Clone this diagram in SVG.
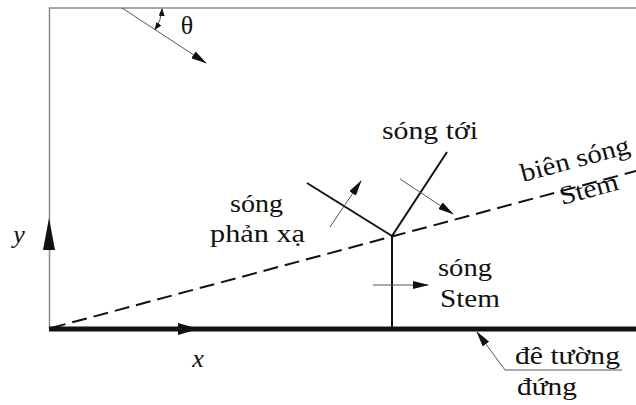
<svg xmlns="http://www.w3.org/2000/svg" width="636" height="405" viewBox="0 0 636 405" font-family="Liberation Serif, DejaVu Serif, serif">
<style>
.t{font-size:26px;fill:#111}
.i{font-style:italic}
.frame{stroke:#8a8a8a;stroke-width:1.5;fill:none}
.thin{stroke:#555;stroke-width:1;fill:none}
.wave{stroke:#111;stroke-width:2;fill:none}
</style>
<defs>
<marker id="ah" markerUnits="userSpaceOnUse" markerWidth="16" markerHeight="8" refX="15" refY="4" orient="auto-start-reverse">
<path d="M0,0 L16,4 L0,8 z" fill="#111"/>
</marker>
<marker id="sm" markerUnits="userSpaceOnUse" markerWidth="8" markerHeight="6" refX="7" refY="3" orient="auto-start-reverse">
<path d="M0,0 L8,3 L0,6 z" fill="#111"/>
</marker>
</defs>
<g id="frame">
<path class="frame" d="M636,8 H49.5 V329"/>
</g>
<g id="connectors">
<line x1="49" y1="329" x2="636" y2="329" stroke="#111" stroke-width="5"/>
<polygon points="199,329 178,323 178,335" fill="#111"/>
<polygon points="49,218 43,250 55,250" fill="#111"/>
<line x1="51" y1="328" x2="636" y2="171" stroke="#111" stroke-width="2" stroke-dasharray="15,7"/>
<line class="wave" x1="392" y1="236" x2="392" y2="329" stroke-width="2.5"/>
<line class="wave" x1="392" y1="236" x2="447" y2="152"/>
<line class="wave" x1="392" y1="236" x2="307" y2="183"/>
<line class="thin" x1="330" y1="227" x2="361" y2="181" marker-end="url(#ah)"/>
<line class="thin" x1="400" y1="179" x2="453" y2="214" marker-end="url(#ah)"/>
<line class="thin" x1="373" y1="285" x2="428" y2="285" marker-end="url(#ah)"/>
<line class="thin" x1="122" y1="8" x2="206" y2="63" marker-end="url(#ah)"/>
<path class="thin" d="M162,9 A40,40 0 0 1 155,29.5" stroke="#111" marker-start="url(#sm)" marker-end="url(#sm)"/>
<polyline class="thin" points="477,332 505,370 622,370" marker-start="url(#ah)"/>
</g>
<g id="theta"><text class="t" x="187" y="34" text-anchor="middle">θ</text></g>
<g id="axis-x"><text class="t i" x="198" y="367" text-anchor="middle">x</text></g>
<g id="axis-y"><text class="t i" x="19" y="243" text-anchor="middle">y</text></g>
<g id="song-toi"><text class="t" x="382" y="139" textLength="96" lengthAdjust="spacingAndGlyphs">sóng tới</text></g>
<g id="song-phan-xa">
<text class="t" x="230" y="212" textLength="53" lengthAdjust="spacingAndGlyphs">sóng</text>
<text class="t" x="210" y="242" textLength="95" lengthAdjust="spacingAndGlyphs">phản xạ</text>
</g>
<g id="song-stem">
<text class="t" x="438" y="276" textLength="54" lengthAdjust="spacingAndGlyphs">sóng</text>
<text class="t" x="440" y="307" textLength="60" lengthAdjust="spacingAndGlyphs">Stem</text>
</g>
<g id="bien-song-stem">
<text class="t" transform="translate(523,182) rotate(-15)" textLength="112" lengthAdjust="spacingAndGlyphs">biên sóng</text>
<text class="t" transform="translate(562,205) rotate(-15)" textLength="60" lengthAdjust="spacingAndGlyphs">Stem</text>
</g>
<g id="de-tuong-dung">
<text class="t" x="515" y="364" textLength="105" lengthAdjust="spacingAndGlyphs">đê tường</text>
<text class="t" x="517" y="395" textLength="60" lengthAdjust="spacingAndGlyphs">đứng</text>
</g>
</svg>
